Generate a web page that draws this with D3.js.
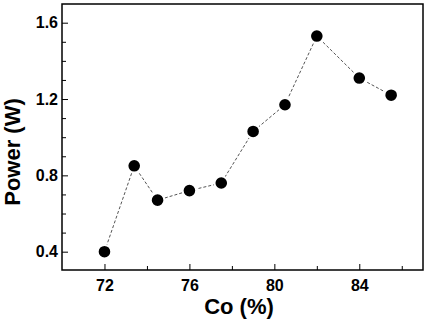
<!DOCTYPE html>
<html>
<head>
<meta charset="utf-8">
<script src="https://cdn.jsdelivr.net/npm/d3@7"></script>
<style>
  body { margin: 0; background: #fff; }
  text { font-family: "Liberation Sans", Arial, sans-serif; font-weight: bold; fill: #000; }
</style>
</head>
<body>
<div id="chart"></div>
<script>
// Co content vs. output power
const coPercent = [72, 73.4, 74.5, 76, 77.5, 79, 80.5, 82, 84, 85.5];
const powerW = [0.40, 0.85, 0.67, 0.72, 0.76, 1.03, 1.17, 1.53, 1.31, 1.22];
const xTicks = [72, 76, 80, 84];
const yTicks = [0.4, 0.8, 1.2, 1.6];

const width = 429, height = 320;
const margin = { top: 4, right: 6, bottom: 50, left: 62 };

const svg = d3.select("#chart")
    .append("svg")
    .attr("width", width)
    .attr("height", height);

const x = d3.scaleLinear()
    .domain([70, 87])
    .range([margin.left, width - margin.right]);

const y = d3.scaleLinear()
    .domain([0.304, 1.698])
    .range([height - margin.bottom, margin.top]);

// minor ticks (inward)
const xMinor = d3.range(74, 87, 4);
const yMinor = [0.5, 0.6, 0.7, 0.9, 1.0, 1.1, 1.3, 1.4, 1.5];

const bottom = height - margin.bottom;

svg.append("g")
    .attr("transform", `translate(0,${bottom})`)
    .call(d3.axisBottom(x).tickValues(xMinor).tickSize(-4).tickFormat(""))
    .call(g => g.select(".domain").remove());

svg.append("g")
    .attr("transform", `translate(${margin.left},0)`)
    .call(d3.axisLeft(y).tickValues(yMinor).tickSize(-4).tickFormat(""))
    .call(g => g.select(".domain").remove());

// major ticks
svg.append("g")
    .attr("transform", `translate(0,${bottom})`)
    .call(d3.axisBottom(x).tickValues(xTicks).tickSize(-6).tickPadding(10).tickFormat(d3.format("d")))
    .call(g => g.select(".domain").remove())
    .call(g => g.selectAll("text").style("font-size", "16px"));

svg.append("g")
    .attr("transform", `translate(${margin.left},0)`)
    .call(d3.axisLeft(y).tickValues(yTicks).tickSize(-6).tickPadding(4).tickFormat(d3.format(".1f")))
    .call(g => g.select(".domain").remove())
    .call(g => g.selectAll("text").style("font-size", "16px"));

// frame
svg.append("rect")
    .attr("x", margin.left)
    .attr("y", margin.top)
    .attr("width", width - margin.left - margin.right)
    .attr("height", bottom - margin.top)
    .attr("fill", "none")
    .attr("stroke", "#000")
    .attr("stroke-width", 1.5);

const data = coPercent.map((c, i) => ({ c, p: powerW[i] }));

// dashed connecting line
svg.append("path")
    .datum(data)
    .attr("fill", "none")
    .attr("stroke", "#555")
    .attr("stroke-width", 1)
    .attr("stroke-dasharray", "3,2")
    .attr("d", d3.line().x(d => x(d.c)).y(d => y(d.p)));

// markers
svg.selectAll(".pt")
    .data(data)
    .enter()
    .append("circle")
    .attr("class", "pt")
    .attr("cx", d => x(d.c))
    .attr("cy", d => y(d.p))
    .attr("r", 6.8)
    .attr("fill", "#000")
    .attr("stroke", "#fff")
    .attr("stroke-width", 2);

// axis titles
svg.append("text")
    .attr("x", 239)
    .attr("y", 314)
    .attr("text-anchor", "middle")
    .style("font-size", "22px")
    .text("Co (%)");

svg.append("text")
    .attr("transform", `translate(20,152) rotate(-90)`)
    .attr("text-anchor", "middle")
    .style("font-size", "22px")
    .text("Power (W)");
</script>
</body>
</html>
